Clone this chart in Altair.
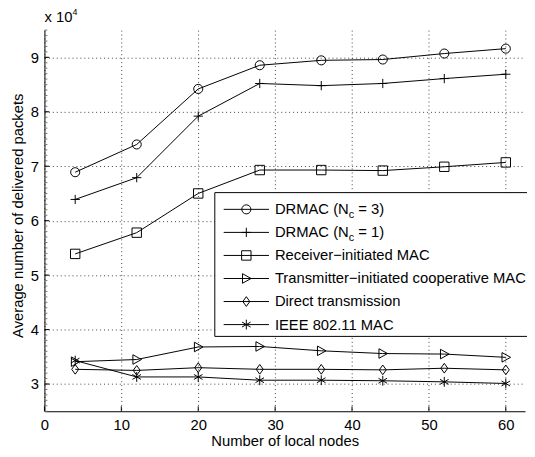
import altair as alt
import pandas as pd

# ---------------- data ----------------
nodes = [4, 12, 20, 28, 36, 44, 52, 60]
drmac_nc3 = [68900, 74000, 84200, 88550, 89450, 89600, 90700, 91600]
drmac_nc1 = [63900, 67900, 79200, 85200, 84800, 85200, 86100, 86900]
receiver_mac = [53900, 57800, 65000, 69300, 69300, 69200, 69900, 70700]
transmitter_coop = [34100, 34500, 36800, 36900, 36100, 35600, 35500, 34900]
direct_tx = [32700, 32500, 33000, 32700, 32700, 32600, 32900, 32600]
ieee80211 = [34300, 31300, 31300, 30700, 30700, 30600, 30400, 30100]

series_keys = ["nc3", "nc1", "recv", "trans", "direct", "ieee"]
series_values = [drmac_nc3, drmac_nc1, receiver_mac, transmitter_coop, direct_tx, ieee80211]
legend_main = ["DRMAC (N", "DRMAC (N", "Receiver\u2212initiated MAC",
               "Transmitter\u2212initiated cooperative MAC", "Direct transmission", "IEEE 802.11 MAC"]
legend_sub = ["c", "c", "", "", "", ""]
legend_rest = ["= 3)", "= 1)", "", "", "", ""]

x_ticks = [0, 10, 20, 30, 40, 50, 60]
y_ticks = [30000, 40000, 50000, 60000, 70000, 80000, 90000]
y_minor = [25000 + 1000 * i for i in range(71)]

# ---------------- styling ----------------
FONT = "Liberation Sans"
FS = 15
W, H = 488, 387
shapes = ["circle", "M-1,0L1,0M0,-1L0,1", "square", "M-0.8,-1L1,0L-0.8,1Z",
          "M0,-1L0.72,0L0,1L-0.72,0Z", "M0,-1L0,1M-0.87,-0.5L0.87,0.5M-0.87,0.5L0.87,-0.5"]
sizes = [85, 100, 64, 110, 150, 95]

rows = []
for k, vals in zip(series_keys, series_values):
    for n, v in zip(nodes, vals):
        rows.append({"nodes": n, "packets": v, "series": k})
df = pd.DataFrame(rows)

xscale = alt.Scale(domain=[0, 62.5], nice=False, zero=False)
yscale = alt.Scale(domain=[25000, 95000], nice=False, zero=False)
shape_scale = alt.Scale(domain=series_keys, range=shapes)
size_scale = alt.Scale(domain=series_keys, range=sizes)

base = alt.Chart(df)

lines = base.mark_line(color="#000", strokeWidth=1).encode(
    x=alt.X("nodes:Q", scale=xscale,
            axis=alt.Axis(values=x_ticks, title="Number of local nodes", grid=True,
                          gridDash=[1, 3], gridColor="#000", gridOpacity=0.75, gridWidth=1,
                          ticks=False, tickSize=0, labelPadding=19, labelBaseline="alphabetic",
                          labelFlush=False, labelOverlap=False, labelFont=FONT, labelFontSize=FS,
                          labelColor="#000", domainColor="#000", domainWidth=1,
                          titleFont=FONT, titleFontSize=FS, titleFontWeight="normal",
                          titleColor="#000", titleY=35, titleBaseline="alphabetic")),
    y=alt.Y("packets:Q", scale=yscale,
            axis=alt.Axis(values=y_ticks, labelExpr="datum.value / 10000",
                          title="Average number of delivered packets", grid=True,
                          gridDash=[1, 3], gridColor="#000", gridOpacity=0.75, gridWidth=1,
                          ticks=False, tickSize=0, labelPadding=6, labelFlush=False,
                          labelOverlap=False, labelFont=FONT, labelFontSize=FS, labelColor="#000",
                          domainColor="#000", domainWidth=1,
                          titleFont=FONT, titleFontSize=FS, titleFontWeight="normal",
                          titleColor="#000", titleX=-22, titleY=188, titleAlign="center",
                          titleBaseline="alphabetic")),
    detail="series:N",
)

points = base.mark_point(filled=False, color="#000", strokeWidth=1, opacity=1).encode(
    x=alt.X("nodes:Q", scale=xscale),
    y=alt.Y("packets:Q", scale=yscale),
    shape=alt.Shape("series:N", scale=shape_scale, legend=None),
    size=alt.Size("series:N", scale=size_scale, legend=None),
)

# inward major ticks and minor y ticks
xt = alt.Chart(pd.DataFrame({"t": x_ticks})).mark_rule(color="#000", strokeWidth=1).encode(
    x=alt.X("t:Q", scale=xscale), y=alt.value(H), y2=alt.value(H - 5))
yt = alt.Chart(pd.DataFrame({"t": y_ticks})).mark_rule(color="#000", strokeWidth=1).encode(
    y=alt.Y("t:Q", scale=yscale), x=alt.value(0), x2=alt.value(5))
ym = alt.Chart(pd.DataFrame({"t": y_minor})).mark_rule(color="#777", strokeWidth=1).encode(
    y=alt.Y("t:Q", scale=yscale), x=alt.value(0), x2=alt.value(3))

# exponent label
exp_main = alt.Chart(pd.DataFrame({"s": ["x 10"]})).mark_text(
    font=FONT, fontSize=FS, align="left", baseline="alphabetic", color="#000").encode(
    text="s:N", x=alt.value(0), y=alt.value(-8))
exp_sup = alt.Chart(pd.DataFrame({"s": ["4"]})).mark_text(
    font=FONT, fontSize=9, align="left", baseline="alphabetic", color="#000").encode(
    text="s:N", x=alt.value(28.5), y=alt.value(-15))

# ---------------- manual legend ----------------
LEG_TOP = 182
LEG_STEP = 23.4
leg = pd.DataFrame({
    "series": series_keys,
    "main": legend_main,
    "sub": legend_sub,
    "rest": legend_rest,
    "ly": [LEG_TOP + i * LEG_STEP for i in range(len(series_keys))],
})
leg_sub = leg[leg["sub"] != ""]

box = alt.Chart(pd.DataFrame({"a": [0]})).mark_rect(fill="#fff", stroke="#000", strokeWidth=1).encode(
    x=alt.value(173), x2=alt.value(494), y=alt.value(165), y2=alt.value(311))
lchart = alt.Chart(leg)
leg_lines = lchart.mark_rule(color="#000", strokeWidth=1).encode(
    x=alt.value(182), x2=alt.value(228), y=alt.Y("ly:Q", scale=None))
leg_pts = lchart.mark_point(filled=False, color="#000", strokeWidth=1, opacity=1).encode(
    x=alt.value(205), y=alt.Y("ly:Q", scale=None),
    shape=alt.Shape("series:N", scale=shape_scale, legend=None),
    size=alt.Size("series:N", scale=size_scale, legend=None))
leg_txt = lchart.mark_text(font=FONT, fontSize=FS, align="left", baseline="middle", color="#000").encode(
    x=alt.value(234), y=alt.Y("ly:Q", scale=None), text="main:N")
schart = alt.Chart(leg_sub)
leg_sub_txt = schart.mark_text(font=FONT, fontSize=11, align="left", baseline="middle", color="#000", dy=6).encode(
    x=alt.value(234 + 75), y=alt.Y("ly:Q", scale=None), text="sub:N")
leg_rest_txt = schart.mark_text(font=FONT, fontSize=FS, align="left", baseline="middle", color="#000").encode(
    x=alt.value(234 + 75 + 5.5 + 4.2), y=alt.Y("ly:Q", scale=None), text="rest:N")

chart = alt.layer(
    lines, points, ym, yt, xt, exp_main, exp_sup,
    box, leg_lines, leg_pts, leg_txt, leg_sub_txt, leg_rest_txt,
).properties(
    width=W, height=H,
    autosize=alt.AutoSizeParams(type="none"),
    padding={"left": 37, "top": 19, "right": 2, "bottom": 43},
    background="#fff",
).configure_view(stroke=None)

chart.save("out.html", embed_options={"renderer": "svg", "actions": False})
